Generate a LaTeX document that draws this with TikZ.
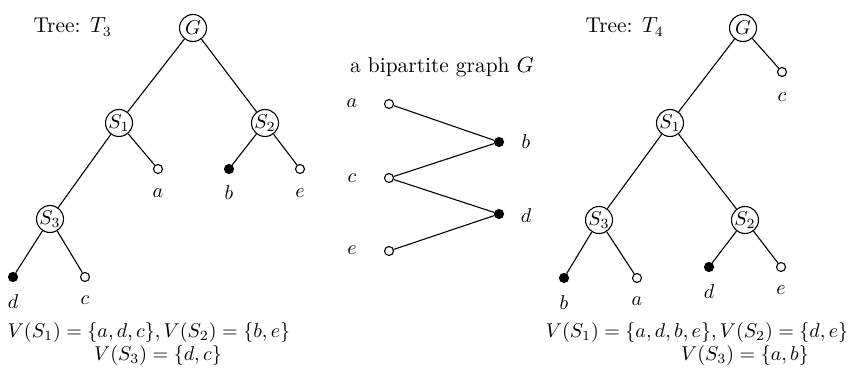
\documentclass[tikz,border=0pt]{standalone}
\begin{document}
\begin{tikzpicture}[x=0.5pt,y=-0.5pt,line width=0.55pt,
  inner/.style={circle,draw,inner sep=0pt,minimum size=13.5pt},
  open/.style={circle,draw,fill=white,inner sep=0pt,minimum size=4.5pt},
  full/.style={circle,draw,fill=black,inner sep=0pt,minimum size=4.5pt},
  lbl/.style={inner sep=0pt},
  ttl/.style={inner sep=0pt,font=\fontsize{10.7}{13}\selectfont}]
\useasboundingbox (0,0) rectangle (865,373);
% ---------- Tree T3 ----------
\node[ttl,anchor=base west] (t3title) at (33,33) {Tree: $T_3$};
\node[inner] (g3) at (193,28) {$G$};
\node[inner] (s31) at (119,123) {$S_1$};
\node[inner] (s32) at (265,123) {$S_2$};
\node[inner] (s33) at (50,219) {$S_3$};
\node[open] (la3) at (158,169) {};
\node[full] (lb3) at (229,169) {};
\node[open] (le3) at (300,169) {};
\node[full] (ld3) at (13,277) {};
\node[open] (lc3) at (85,277) {};
\draw (g3) -- (s31);
\draw (g3) -- (s32);
\draw (s31) -- (la3);
\draw (s31) -- (s33);
\draw (s32) -- (lb3);
\draw (s32) -- (le3);
\draw (s33) -- (ld3);
\draw (s33) -- (lc3);
\node[lbl] (na3) at (158,193) {$a$};
\node[lbl] (nb3) at (229,193) {$b$};
\node[lbl] (ne3) at (300,193) {$e$};
\node[lbl] (nd3) at (13,302) {$d$};
\node[lbl] (nc3) at (85,300) {$c$};
\node[lbl] (f31) at (149,332) {$V(S_1)=\{a,d,c\}, V(S_2)=\{b,e\}$};
\node[lbl] (f32) at (158,355) {$V(S_3)=\{d,c\}$};
% ---------- bipartite graph ----------
\node[ttl,anchor=base] (btitle) at (442,73) {a bipartite graph $G$};
\node[open] (ba) at (389,104) {};
\node[open] (bc) at (389,178) {};
\node[open] (be) at (389,251) {};
\node[full] (bb) at (499,142) {};
\node[full] (bd) at (499,214) {};
\draw (ba) -- (bb);
\draw (bc) -- (bb);
\draw (bc) -- (bd);
\draw (be) -- (bd);
\node[lbl] (nba) at (352,103) {$a$};
\node[lbl] (nbc) at (352,178) {$c$};
\node[lbl] (nbe) at (352,250) {$e$};
\node[lbl] (nbb) at (526,142) {$b$};
\node[lbl] (nbd) at (526,216) {$d$};
% ---------- Tree T4 ----------
\node[ttl,anchor=base west] (t4title) at (585,33) {Tree: $T_4$};
\node[inner] (g4) at (743,28) {$G$};
\node[inner] (s41) at (670,123) {$S_1$};
\node[inner] (s43) at (599,220) {$S_3$};
\node[inner] (s42) at (745,220) {$S_2$};
\node[open] (lc4) at (782,72) {};
\node[full] (lb4) at (564,278) {};
\node[open] (la4) at (637,278) {};
\node[full] (ld4) at (709,267) {};
\node[open] (le4) at (781,267) {};
\draw (g4) -- (s41);
\draw (g4) -- (lc4);
\draw (s41) -- (s43);
\draw (s41) -- (s42);
\draw (s43) -- (lb4);
\draw (s43) -- (la4);
\draw (s42) -- (ld4);
\draw (s42) -- (le4);
\node[lbl] (nc4) at (782,97) {$c$};
\node[lbl] (nb4) at (564,303) {$b$};
\node[lbl] (na4) at (637,301) {$a$};
\node[lbl] (nd4) at (709,292) {$d$};
\node[lbl] (ne4) at (781,290) {$e$};
\node[lbl] (f41) at (697,332) {$V(S_1)=\{a,d,b,e\}, V(S_2)=\{d,e\}$};
\node[lbl] (f42) at (745,355) {$V(S_3)=\{a,b\}$};
\end{tikzpicture}
\end{document}
